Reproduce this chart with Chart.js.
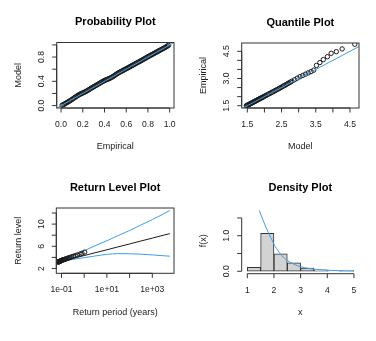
<!DOCTYPE html>
<html>
<head>
<meta charset="utf-8">
<script src="https://cdn.jsdelivr.net/npm/chart.js@4.4.1/dist/chart.umd.min.js"></script>
<style>
html, body { margin:0; padding:0; background:#fff; }
#wrap { position:relative; width:376px; height:341px; }
canvas { position:absolute; }
</style>
</head>
<body>
<div id="wrap">
  <canvas id="c-prob" style="left:0;top:0;width:188px;height:170px" width="188" height="170"></canvas>
  <canvas id="c-qq" style="left:188px;top:0;width:188px;height:170px" width="188" height="170"></canvas>
  <canvas id="c-rl" style="left:0;top:170px;width:188px;height:171px" width="188" height="171"></canvas>
  <canvas id="c-dens" style="left:188px;top:170px;width:188px;height:171px" width="188" height="171"></canvas>
</div>
<script>
// ── data: probability plot ────────────────────────────
const probEmpirical = [0.01,0.02,0.03,0.04,0.05,0.06,0.07,0.08,0.09,0.10,0.11,0.12,0.13,0.14,0.15,0.16,0.17,0.18,0.19,0.20,
  0.21,0.22,0.23,0.24,0.25,0.26,0.27,0.28,0.29,0.30,0.31,0.32,0.33,0.34,0.35,0.36,0.37,0.38,0.39,0.40,
  0.41,0.42,0.43,0.44,0.45,0.46,0.47,0.48,0.49,0.50,0.51,0.52,0.53,0.54,0.55,0.56,0.57,0.58,0.59,0.60,
  0.61,0.62,0.63,0.64,0.65,0.66,0.67,0.68,0.69,0.70,0.71,0.72,0.73,0.74,0.75,0.76,0.77,0.78,0.79,0.80,
  0.81,0.82,0.83,0.84,0.85,0.86,0.87,0.88,0.89,0.90,0.91,0.92,0.93,0.94,0.95,0.96,0.97,0.98,0.99];
const probModel = [0.006,0.014,0.024,0.035,0.045,0.055,0.066,0.077,0.088,0.1,0.113,0.125,0.138,0.15,0.162,0.173,0.183,0.192,0.2,0.208,
  0.216,0.225,0.234,0.244,0.255,0.266,0.278,0.289,0.3,0.31,0.32,0.33,0.341,0.352,0.362,0.373,0.384,0.394,0.404,0.413,
  0.421,0.428,0.435,0.443,0.451,0.46,0.47,0.481,0.493,0.506,0.518,0.53,0.541,0.551,0.56,0.569,0.578,0.588,0.598,0.608,
  0.617,0.627,0.636,0.646,0.656,0.666,0.675,0.685,0.695,0.705,0.715,0.724,0.734,0.744,0.754,0.764,0.774,0.784,0.795,0.805,
  0.815,0.824,0.834,0.843,0.853,0.863,0.872,0.882,0.892,0.902,0.912,0.921,0.931,0.941,0.951,0.961,0.971,0.982,0.995];
const probTicks  = [0, 0.2, 0.4, 0.6, 0.8, 1.0];
const probXLabels = ["0.0","0.2","0.4","0.6","0.8","1.0"];
const probYLabels = ["0.0","","0.4","","0.8",""];

// ── data: quantile plot ───────────────────────────────
const qqModel = [1.47,1.49,1.51,1.53,1.55,1.57,1.59,1.61,1.63,1.65,1.67,1.69,1.71,1.73,1.75,1.77,1.79,1.81,1.83,1.85,
  1.87,1.89,1.91,1.93,1.95,1.97,2.0,2.04,2.08,2.12,2.16,2.2,2.24,2.28,2.32,2.36,2.4,2.44,2.48,2.52,
  2.56,2.6,2.64,2.68,2.72,2.76,2.8,2.88,2.96,3.04,3.12,3.2,3.28,3.36,3.44,
  3.52,3.62,3.72,3.84,3.95,4.1,4.27,4.64];
const qqEmpirical = [1.5,1.515,1.53,1.55,1.57,1.59,1.61,1.63,1.65,1.67,1.69,1.71,1.73,1.75,1.77,1.79,1.81,1.83,1.85,1.87,
  1.89,1.91,1.93,1.95,1.97,1.99,2.02,2.06,2.1,2.14,2.18,2.22,2.26,2.3,2.34,2.38,2.42,2.46,2.5,2.55,
  2.59,2.63,2.67,2.72,2.76,2.8,2.85,2.93,3.02,3.1,3.17,3.24,3.31,3.38,3.46,
  3.72,3.88,4.04,4.2,4.39,4.48,4.63,4.89];
const qqXTicks  = [1.5,2.0,2.5,3.0,3.5,4.0,4.5];
const qqXLabels = ["1.5","","2.5","","3.5","","4.5"];
const qqYTicks  = [1.5,2.0,2.5,3.0,3.5,4.0,4.5];
const qqYLabels = ["1.5","","","3.0","","","4.5"];

// ── data: return level plot ───────────────────────────
const rlPeriod = [0.07,0.1,0.3,1,3,10,30,100,300,1000,3000,5890];
const rlLevel  = [3.15,3.31,3.82,4.33,4.84,5.37,5.88,6.42,6.93,7.47,7.98,8.28];
const rlUpper  = [3.25,3.45,4.25,5.2,6.1,7.0,7.9,8.85,9.8,10.8,11.8,12.48];
const rlLower  = [3.1,3.25,3.62,3.95,4.25,4.55,4.68,4.66,4.58,4.45,4.3,4.22];
const rlObsPeriod = [0.07,0.073,0.076,0.08,0.083,0.087,0.09,0.095,0.1,0.105,0.11,0.12,0.13,0.14,0.15,0.17,0.19,0.21,0.24,0.28,0.33,0.4,0.5,0.65,0.8,1.05];
const rlObsLevel  = [3.15,3.18,3.21,3.25,3.28,3.32,3.35,3.4,3.45,3.48,3.52,3.57,3.62,3.66,3.7,3.78,3.85,3.92,4.0,4.1,4.2,4.3,4.45,4.6,4.75,4.95];
const rlXTicks  = [0.1,1,10,100,1000];
const rlXLabels = ["1e-01","","1e+01","","1e+03"];
const rlYTicks  = [2,4,6,8,10,12];
const rlYLabels = ["2","","6","","10",""];

// ── data: density plot ────────────────────────────────
const histMid     = [1.25,1.75,2.25,2.75,3.25,3.75,4.25,4.75];
const histDensity = [0.11,1.07,0.49,0.24,0.09,0.04,0.01,0.02];
const densX = [1.45,1.6,1.7,1.8,1.9,2.0,2.2,2.4,2.6,2.8,3.0,3.3,3.6,4.0,4.5,5.0];
const densY = [1.71,1.42,1.24,1.07,0.92,0.76,0.53,0.36,0.26,0.18,0.13,0.08,0.05,0.03,0.015,0.008];
const densXTicks  = [1,2,3,4,5];
const densXLabels = ["1","2","3","4","5"];
const densYTicks  = [0,0.5,1.0,1.5];
const densYLabels = ["0.0","","1.0",""];

// ── 스타일 ────────────────────────────────────────────
const FONT  = '"Liberation Sans", Arial, Helvetica, sans-serif';
const BLUE  = "#3d9ee6";
const INK   = "#1a1a1a";
const TICK  = 4.5;

const xy = (xs, ys) => xs.map((x, i) => ({ x, y: ys[i] }));

// ── R 스타일 축 플러그인 ──────────────────────────────
const rAxes = {
  id: "raxes",
  afterDraw(chart, args, o) {
    const { ctx, chartArea: a, scales } = chart;
    const sx = scales.x, sy = scales.y;
    ctx.save();
    ctx.strokeStyle = "#333";
    ctx.lineWidth = 1;
    if (o.box) ctx.strokeRect(a.left, a.top, a.right - a.left, a.bottom - a.top);

    const xp = o.xTicks.map(v => sx.getPixelForValue(v));
    const yp = o.yTicks.map(v => sy.getPixelForValue(v));
    ctx.beginPath();
    ctx.moveTo(xp[0], a.bottom); ctx.lineTo(xp[xp.length - 1], a.bottom);
    xp.forEach(p => { ctx.moveTo(p, a.bottom); ctx.lineTo(p, a.bottom + TICK); });
    ctx.moveTo(a.left, yp[0]); ctx.lineTo(a.left, yp[yp.length - 1]);
    yp.forEach(p => { ctx.moveTo(a.left, p); ctx.lineTo(a.left - TICK, p); });
    ctx.stroke();

    ctx.fillStyle = "#222";
    ctx.textAlign = "center";
    ctx.textBaseline = "middle";
    ctx.font = "8.6px " + FONT;
    xp.forEach((p, i) => { if (o.xLabels[i]) ctx.fillText(o.xLabels[i], p, a.bottom + 16.5); });
    yp.forEach((p, i) => {
      if (!o.yLabels[i]) return;
      ctx.save(); ctx.translate(a.left - 15, p); ctx.rotate(-Math.PI / 2);
      ctx.fillText(o.yLabels[i], 0, 0); ctx.restore();
    });

    ctx.font = "9px " + FONT;
    ctx.fillText(o.xTitle, (a.left + a.right) / 2, a.bottom + 39);
    ctx.save(); ctx.translate(a.left - 38, (a.top + a.bottom) / 2); ctx.rotate(-Math.PI / 2);
    ctx.fillText(o.yTitle, 0, 0); ctx.restore();

    ctx.fillStyle = "#000";
    ctx.font = "bold 11px " + FONT;
    ctx.fillText(o.title, (a.left + a.right) / 2, a.top - 20.5);
    ctx.restore();
  }
};

function baseOptions(pad, xScale, yScale, axes) {
  return {
    responsive: false,
    animation: false,
    events: [],
    layout: { padding: pad },
    scales: { x: Object.assign({ display: false }, xScale), y: Object.assign({ display: false }, yScale) },
    plugins: { legend: { display: false }, tooltip: { enabled: false }, raxes: axes },
  };
}

const circle = { pointStyle: "circle", pointRadius: 2.2, pointBorderWidth: 1, pointBorderColor: INK,
                 pointBackgroundColor: "rgba(0,0,0,0)", showLine: false };

// ── Probability Plot ─────────────────────────────────
new Chart(document.getElementById("c-prob"), {
  type: "scatter",
  data: { datasets: [
    { data: xy([-0.1, 1.1], [-0.1, 1.1]), showLine: true, borderColor: BLUE, borderWidth: 1, pointRadius: 0 },
    Object.assign({ data: xy(probEmpirical, probModel) }, circle),
  ]},
  options: baseOptions({ left: 56.7, top: 42.5, right: 14, bottom: 62 },
    { type: "linear", min: -0.04, max: 1.04 }, { type: "linear", min: -0.04, max: 1.04 },
    { box: true, title: "Probability Plot", xTitle: "Empirical", yTitle: "Model",
      xTicks: probTicks, xLabels: probXLabels, yTicks: probTicks, yLabels: probYLabels }),
  plugins: [rAxes],
});

// ── Quantile Plot ────────────────────────────────────
new Chart(document.getElementById("c-qq"), {
  type: "scatter",
  data: { datasets: [
    { data: xy([1, 5], [1, 5]), showLine: true, borderColor: BLUE, borderWidth: 1, pointRadius: 0 },
    Object.assign({ data: xy(qqModel, qqEmpirical) }, circle),
  ]},
  options: baseOptions({ left: 53.7, top: 43, right: 17, bottom: 62 },
    { type: "linear", min: 1.336, max: 4.763 }, { type: "linear", min: 1.373, max: 4.958 },
    { box: true, title: "Quantile Plot", xTitle: "Model", yTitle: "Empirical",
      xTicks: qqXTicks, xLabels: qqXLabels, yTicks: qqYTicks, yLabels: qqYLabels }),
  plugins: [rAxes],
});

// ── Return Level Plot ────────────────────────────────
new Chart(document.getElementById("c-rl"), {
  type: "scatter",
  data: { datasets: [
    Object.assign({ data: xy(rlObsPeriod, rlObsLevel) }, circle),
    { data: xy(rlPeriod, rlLevel), showLine: true, borderColor: INK, borderWidth: 1, pointRadius: 0 },
    { data: xy(rlPeriod, rlUpper), showLine: true, borderColor: BLUE, borderWidth: 1, pointRadius: 0, cubicInterpolationMode: "monotone" },
    { data: xy(rlPeriod, rlLower), showLine: true, borderColor: BLUE, borderWidth: 1, pointRadius: 0, cubicInterpolationMode: "monotone" },
  ]},
  options: baseOptions({ left: 56.3, top: 38, right: 14, bottom: 67.7 },
    { type: "logarithmic", min: 0.059, max: 9036 }, { type: "linear", min: 1.135, max: 12.9 },
    { box: true, title: "Return Level Plot", xTitle: "Return period (years)", yTitle: "Return level",
      xTicks: rlXTicks, xLabels: rlXLabels, yTicks: rlYTicks, yLabels: rlYLabels }),
  plugins: [rAxes],
});

// ── Density Plot ─────────────────────────────────────
new Chart(document.getElementById("c-dens"), {
  type: "bar",
  data: { datasets: [
    { type: "line", data: xy(densX, densY), borderColor: BLUE, borderWidth: 1, pointRadius: 0,
      cubicInterpolationMode: "monotone", fill: false },
    { type: "bar", data: xy(histMid, histDensity), backgroundColor: "#d3d3d3", borderColor: "#333",
      borderWidth: 1, borderSkipped: false, barPercentage: 1, categoryPercentage: 1 },
  ]},
  options: baseOptions({ left: 53.7, top: 38, right: 17, bottom: 67.3 },
    { type: "linear", min: 0.79, max: 5.19, offset: false }, { type: "linear", min: -0.068, max: 1.78 },
    { box: false, title: "Density Plot", xTitle: "x", yTitle: "f(x)",
      xTicks: densXTicks, xLabels: densXLabels, yTicks: densYTicks, yLabels: densYLabels }),
  plugins: [rAxes],
});
</script>
</body>
</html>
